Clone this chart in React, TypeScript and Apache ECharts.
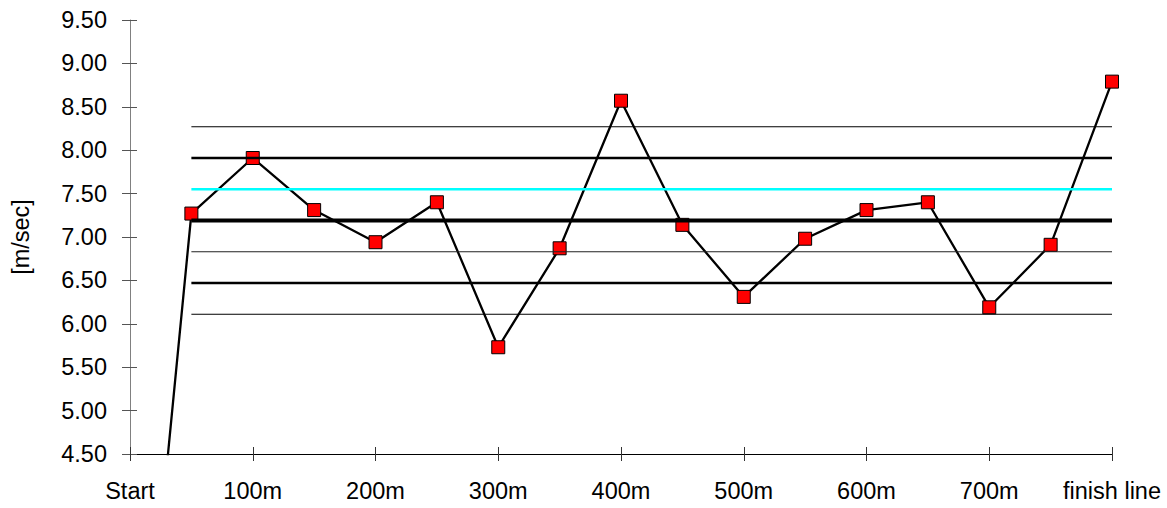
import React, { useEffect, useRef } from "react";
import * as echarts from "echarts";

const distances = [0, 50, 100, 150, 200, 250, 300, 350, 400, 450, 500, 550, 600, 650, 700, 750, 800];
const speeds = [0, 7.27, 7.91, 7.31, 6.94, 7.4, 5.73, 6.87, 8.57, 7.14, 6.31, 6.98, 7.31, 7.4, 6.19, 6.91, 8.79];
const xTickLabels = ["Start", "100m", "200m", "300m", "400m", "500m", "600m", "700m", "finish line"];
const refStart = 50;
const refEnd = 800;
const refLevels = [8.27, 7.91, 7.55, 7.19, 6.83, 6.47, 6.11];
const refWidths = [1, 2.5, 2.5, 4, 1, 2.5, 1];
const refColors = ["#000000", "#000000", "#00FFFF", "#000000", "#222222", "#000000", "#000000"];

const FONT = "Liberation Sans, Arial, Helvetica, sans-serif";

export default function App() {
  const ref = useRef<HTMLDivElement>(null);
  useEffect(() => {
    document.body.style.margin = "0";
    const chart = echarts.init(ref.current!, null, { renderer: "svg" });
    const baseX = {
      type: "value" as const,
      min: 0,
      max: 800,
      interval: 100,
      position: "bottom" as const,
      splitLine: { show: false },
    };
    const baseY = {
      type: "value" as const,
      min: 4.5,
      max: 9.5,
      interval: 0.5,
      position: "left" as const,
      splitLine: { show: false },
    };
    const mainData = distances.map((d, i) =>
      i === 0 ? { value: [d, speeds[i]], symbol: "none" } : { value: [d, speeds[i]] }
    );
    const refSeries = refLevels.map((v, i) => ({
      type: "line",
      xAxisIndex: 0,
      yAxisIndex: 0,
      data: [
        [refStart, v],
        [refEnd, v],
      ],
      symbol: "none",
      z: 5,
      silent: true,
      lineStyle: { color: refColors[i], width: refWidths[i] },
    }));
    chart.setOption({
      animation: false,
      grid: { left: 130, right: 55, top: 20, bottom: 54, containLabel: false },
      xAxis: [
        {
          ...baseX,
          axisLine: { show: true, lineStyle: { color: "#000000", width: 1 } },
          axisTick: { show: true, length: 7, inside: false, lineStyle: { color: "#333333" } },
          axisLabel: {
            show: true,
            margin: 25,
            fontSize: 23.5,
            fontFamily: FONT,
            color: "#000000",
            formatter: (v: number) => xTickLabels[Math.round(v / 100)] ?? "",
          },
        },
        {
          ...baseX,
          axisLine: { show: false },
          axisTick: { show: true, length: 7, inside: true, lineStyle: { color: "#333333" } },
          axisLabel: { show: false },
        },
      ],
      yAxis: [
        {
          ...baseY,
          name: "[m/sec]",
          nameLocation: "middle",
          nameGap: 97,
          nameTextStyle: { fontSize: 23.5, fontFamily: FONT, color: "#000000" },
          axisLine: { show: true, lineStyle: { color: "#808080", width: 1 } },
          axisTick: { show: true, length: 8, inside: false, lineStyle: { color: "#555555" } },
          axisLabel: {
            show: true,
            margin: 23,
            fontSize: 23.5,
            fontFamily: FONT,
            color: "#000000",
            formatter: (v: number) => v.toFixed(2),
          },
        },
        {
          ...baseY,
          axisLine: { show: false },
          axisTick: { show: true, length: 7, inside: true, lineStyle: { color: "#555555" } },
          axisLabel: { show: false },
        },
      ],
      series: [
        {
          type: "line",
          xAxisIndex: 0,
          yAxisIndex: 0,
          data: mainData,
          clip: true,
          symbol: "rect",
          symbolSize: 13,
          z: 3,
          lineStyle: { color: "#000000", width: 2.3 },
          itemStyle: { color: "#FF0000", borderColor: "#000000", borderWidth: 1 },
        },
        ...refSeries,
      ],
    });
    return () => chart.dispose();
  }, []);
  return <div ref={ref} style={{ width: 1167, height: 508 }} />;
}
